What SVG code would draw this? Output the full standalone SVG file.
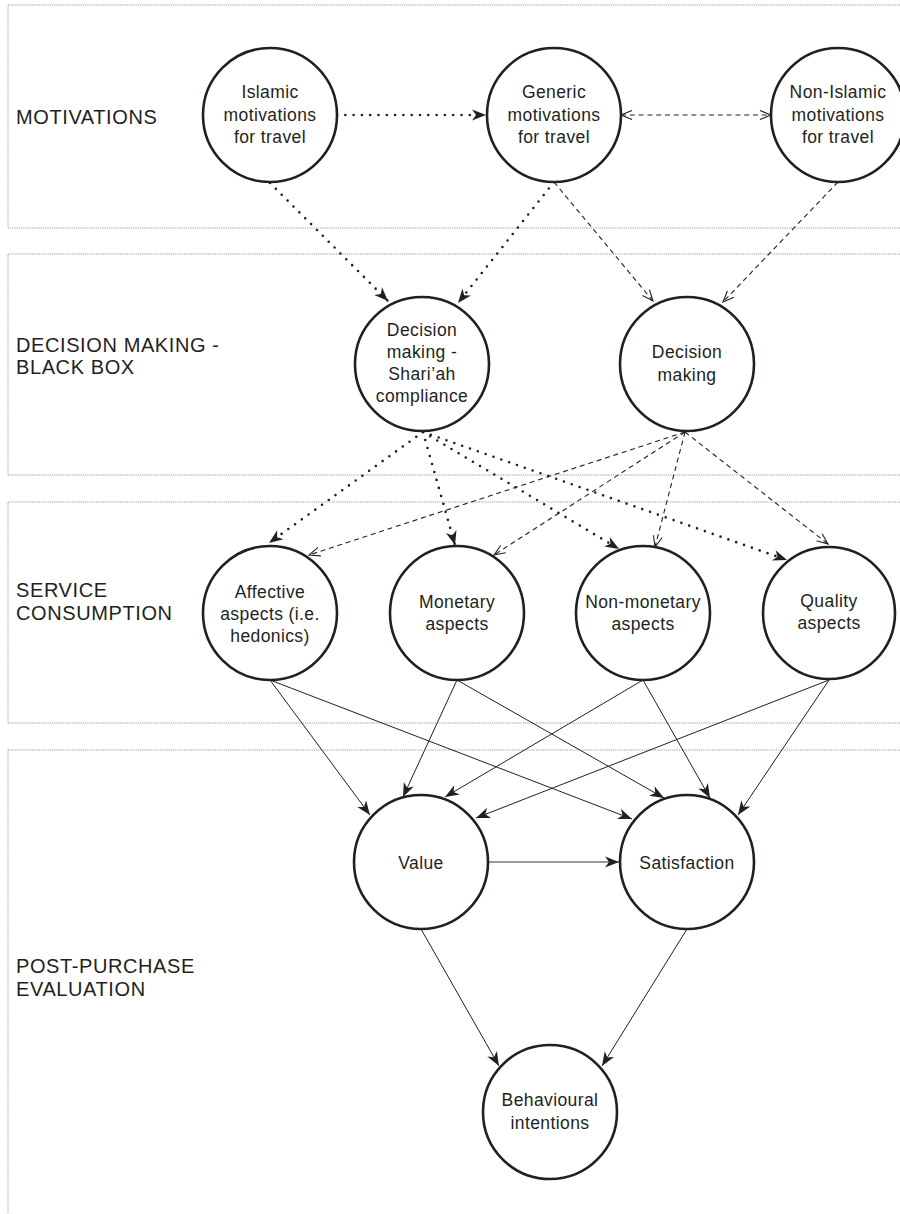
<svg xmlns="http://www.w3.org/2000/svg" width="900" height="1214" viewBox="0 0 900 1214">
<style>
.frame{fill:none;stroke:#9a9a9a;stroke-width:1;stroke-dasharray:1.2 1}
.node{fill:#fff;stroke:#231f20;stroke-width:2.6}
.nt{font-family:"Liberation Sans",Arial,sans-serif;font-size:17.5px;letter-spacing:0.4px;fill:#231f20;text-anchor:middle}
.sec{font-family:"Liberation Sans",Arial,sans-serif;font-size:20px;letter-spacing:0.6px;fill:#231f20}
.dot{fill:none;stroke:#231f20;stroke-width:2.6;stroke-linecap:round;stroke-dasharray:0 8.3;marker-end:url(#fill)}
.dash{fill:none;stroke:#231f20;stroke-width:1.1;stroke-dasharray:5 3.8;marker-end:url(#open)}
.sol{fill:none;stroke:#231f20;stroke-width:1;marker-end:url(#fill)}
</style>
<defs>
<marker id="fill" markerUnits="userSpaceOnUse" viewBox="-15 -7 16 14" markerWidth="16" markerHeight="14" refX="0" refY="0" orient="auto">
<path d="M0,0 L-14,-5.5 L-10,0 L-14,5.5 Z" fill="#231f20"/>
</marker>
<marker id="open" markerUnits="userSpaceOnUse" viewBox="-13 -7 14 14" markerWidth="14" markerHeight="14" refX="0" refY="0" orient="auto-start-reverse">
<path d="M-11,-4.5 L0,0 L-11,4.5" fill="none" stroke="#231f20" stroke-width="1.1"/>
</marker>
</defs>

<g id="frames">
<rect class="frame" x="8" y="5" width="1000" height="223"/>
<rect class="frame" x="8" y="254" width="1000" height="221"/>
<rect class="frame" x="8" y="502" width="1000" height="221"/>
<rect class="frame" x="8" y="750" width="1000" height="600"/>
</g>

<g id="section-labels">
<text class="sec" x="16" y="124">MOTIVATIONS</text>
<text class="sec" x="16" y="352">DECISION MAKING -</text>
<text class="sec" x="16" y="374">BLACK BOX</text>
<text class="sec" x="16" y="597">SERVICE</text>
<text class="sec" x="16" y="620">CONSUMPTION</text>
<text class="sec" x="16" y="973">POST-PURCHASE</text>
<text class="sec" x="16" y="996">EVALUATION</text>
</g>

<g id="connectors">
<path class="dot" d="M337,115 L486,115"/>
<path class="dot" d="M270,183 L388,301"/>
<path class="dot" d="M554,182 L458,303"/>
<path class="dot" d="M423,432 L269,543"/>
<path class="dot" d="M423,432 L455,545"/>
<path class="dot" d="M423,432 L619,549"/>
<path class="dot" d="M423,432 L787,560"/>
<path class="dash" d="M621,115 L771,115" marker-start="url(#open)"/>
<path class="dash" d="M554,182 L653,301"/>
<path class="dash" d="M838,182 L723,302"/>
<path class="dash" d="M685,432 L309,555"/>
<path class="dash" d="M685,432 L494,555"/>
<path class="dash" d="M685,432 L655,547"/>
<path class="dash" d="M685,432 L828,544"/>
<path class="sol" d="M270,680 L370,815"/>
<path class="sol" d="M270,680 L632,819"/>
<path class="sol" d="M457,680 L403,797"/>
<path class="sol" d="M457,680 L664,798"/>
<path class="sol" d="M643,680 L445,797"/>
<path class="sol" d="M643,680 L710,798"/>
<path class="sol" d="M829,680 L476,818"/>
<path class="sol" d="M829,680 L738,815"/>
<path class="sol" d="M488,862 L619,862" style="stroke:#777;stroke-width:1.6"/>
<path class="sol" d="M421,929 L499,1066"/>
<path class="sol" d="M687,929 L602,1066"/>
</g>

<g id="n-islamic">
<circle class="node" cx="270" cy="115" r="67"/>
<text class="nt" x="270" y="98">Islamic</text>
<text class="nt" x="270" y="121">motivations</text>
<text class="nt" x="270" y="143">for travel</text>
</g>
<g id="n-generic">
<circle class="node" cx="554" cy="115" r="67"/>
<text class="nt" x="554" y="98">Generic</text>
<text class="nt" x="554" y="121">motivations</text>
<text class="nt" x="554" y="143">for travel</text>
</g>
<g id="n-nonislamic">
<circle class="node" cx="838" cy="115" r="67"/>
<text class="nt" x="838" y="98">Non-Islamic</text>
<text class="nt" x="838" y="121">motivations</text>
<text class="nt" x="838" y="143">for travel</text>
</g>
<g id="n-shariah">
<circle class="node" cx="422" cy="364" r="67"/>
<text class="nt" x="422" y="336">Decision</text>
<text class="nt" x="422" y="358">making -</text>
<text class="nt" x="422" y="380">Shari’ah</text>
<text class="nt" x="422" y="402">compliance</text>
</g>
<g id="n-decision">
<circle class="node" cx="687" cy="364" r="67"/>
<text class="nt" x="687" y="358">Decision</text>
<text class="nt" x="687" y="381">making</text>
</g>
<g id="n-affective">
<circle class="node" cx="270" cy="613" r="67"/>
<text class="nt" x="270" y="598">Affective</text>
<text class="nt" x="270" y="620">aspects (i.e.</text>
<text class="nt" x="270" y="642">hedonics)</text>
</g>
<g id="n-monetary">
<circle class="node" cx="457" cy="613" r="67"/>
<text class="nt" x="457" y="608">Monetary</text>
<text class="nt" x="457" y="630">aspects</text>
</g>
<g id="n-nonmonetary">
<circle class="node" cx="643" cy="613" r="67"/>
<text class="nt" x="643" y="608">Non-monetary</text>
<text class="nt" x="643" y="630">aspects</text>
</g>
<g id="n-quality">
<circle class="node" cx="829" cy="613" r="66"/>
<text class="nt" x="829" y="607">Quality</text>
<text class="nt" x="829" y="629">aspects</text>
</g>
<g id="n-value">
<circle class="node" cx="421" cy="862" r="67"/>
<text class="nt" x="421" y="869">Value</text>
</g>
<g id="n-satisfaction">
<circle class="node" cx="687" cy="862" r="67"/>
<text class="nt" x="687" y="869">Satisfaction</text>
</g>
<g id="n-behavioural">
<circle class="node" cx="550" cy="1112" r="67"/>
<text class="nt" x="550" y="1106">Behavioural</text>
<text class="nt" x="550" y="1129">intentions</text>
</g>
</svg>
